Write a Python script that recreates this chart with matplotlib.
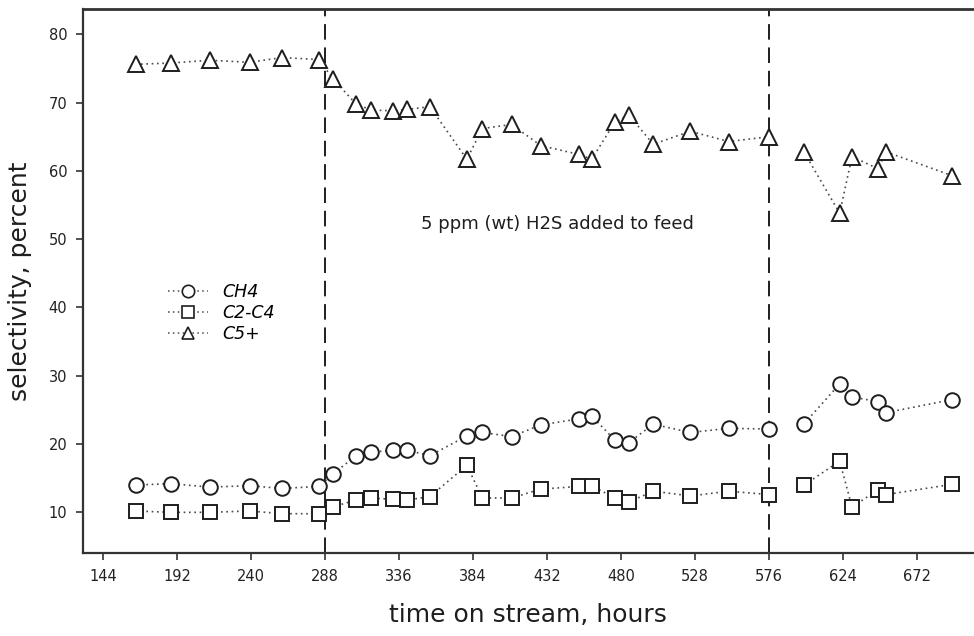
import numpy as np
import matplotlib
matplotlib.use("Agg")
import matplotlib.pyplot as plt

# Time on stream (hours) for each sample
hours = [165, 188, 213, 239, 260, 284, 293, 308, 318, 332, 341, 356, 380, 390,
         409, 428, 453, 461, 476, 485, 501, 525, 550, 576, 599, 622, 630, 647,
         652, 695]

# Selectivity, percent
ch4 = [14.0, 14.2, 13.7, 13.9, 13.5, 13.8, 15.6, 18.3, 18.8, 19.1, 19.1, 18.3,
       21.2, 21.7, 21.1, 22.8, 23.7, 24.1, 20.6, 20.2, 22.9, 21.7, 22.3, 22.2,
       23.0, 28.8, 26.9, 26.2, 24.6, 26.5]
c2_c4 = [10.2, 10.0, 10.0, 10.2, 9.8, 9.8, 10.8, 11.8, 12.1, 11.9, 11.8, 12.3,
         16.9, 12.1, 12.1, 13.4, 13.8, 13.9, 12.1, 11.5, 13.1, 12.4, 13.1, 12.6,
         14.0, 17.5, 10.8, 13.3, 12.6, 14.1]
c5_plus = [75.6, 75.8, 76.2, 75.9, 76.6, 76.3, 73.5, 69.8, 68.9, 68.8, 69.0, 69.4,
           61.7, 66.2, 66.8, 63.7, 62.4, 61.7, 67.1, 68.2, 63.9, 65.8, 64.3, 65.0,
           62.7, 53.8, 62.1, 60.3, 62.8, 59.3]

series_names = ["CH4", "C2-C4", "C5+"]
series_markers = ["o", "s", "^"]
series_sizes = [10.5, 9.5, 11]

# H2S dosing window
h2s_start, h2s_end = 288, 576
h2s_note = "5 ppm (wt) H2S added to feed"

x_ticks = list(range(144, 673, 48))
y_ticks = list(range(10, 81, 10))

plt.rcParams["font.family"] = ["DejaVu Sans"]

fig = plt.figure(figsize=(9.74, 6.36), dpi=100)
ax = fig.add_axes([0.0849, 0.130, 1.0 - 0.0849, 0.9858 - 0.130])

ink = "#1e1e1e"
dots = "#4a4a4a"
t = np.array(hours, dtype=float)
before = t <= h2s_end
after = t > h2s_end

handles = []
for vals, name, mk, ms in zip([ch4, c2_c4, c5_plus], series_names,
                              series_markers, series_sizes):
    v = np.array(vals, dtype=float)
    for mask in (before, after):
        ax.plot(t[mask], v[mask], linestyle=(0, (1, 2.2)), color=dots, lw=1.2,
                zorder=2)
    ax.plot(t, v, linestyle="none", marker=mk, ms=ms, mfc="white",
            mec=ink, mew=1.4, zorder=3)
    handles.append(plt.Line2D([], [], linestyle=(0, (1, 2.2)), color=dots,
                              lw=1.1, marker=mk, ms=ms * 0.85, mfc="white",
                              mec=ink, mew=1.2, label=name))

for xv in (h2s_start, h2s_end):
    ax.axvline(xv, color=ink, lw=1.4, linestyle=(0, (8, 4)), zorder=1)

ax.text(439, 52.2, h2s_note, ha="center", va="center", fontsize=13,
        color=ink)

ax.set_xlim(130.6, 709.2)
ax.set_ylim(4.0, 83.7)
ax.set_xticks(x_ticks)
ax.set_yticks(y_ticks)
ax.tick_params(direction="out", length=5, width=1.2, color="#333333",
               labelsize=10.5, labelcolor="#222222", pad=6)

for side in ("left", "bottom", "top"):
    ax.spines[side].set_color("#333333")
    ax.spines[side].set_linewidth(1.6)
ax.spines["top"].set_linewidth(2.0)
ax.spines["right"].set_visible(False)

ax.set_xlabel("time on stream, hours", fontsize=18, color=ink, labelpad=14)
ax.set_ylabel("selectivity, percent", fontsize=18, color=ink, labelpad=12)

ax.legend(handles=handles, loc="center left",
          bbox_to_anchor=(0.0957, 0.4415), frameon=False, borderpad=0,
          borderaxespad=0, handlelength=2.3, handletextpad=0.8,
          labelspacing=0.18, numpoints=1,
          prop={"style": "italic", "size": 12.5})

fig.savefig("out.png", dpi=100)
